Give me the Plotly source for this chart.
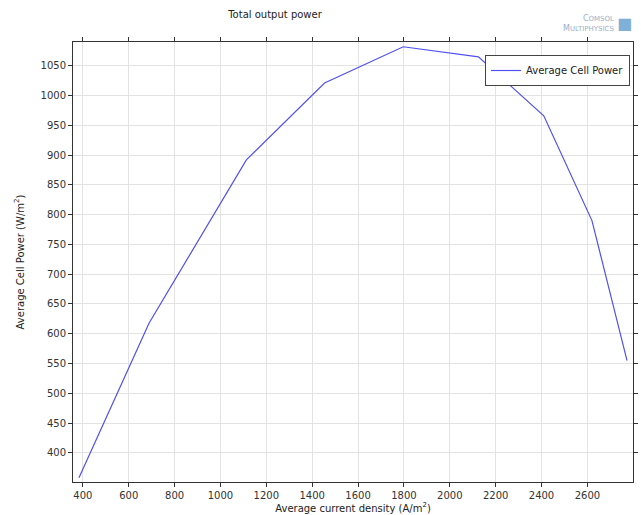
import plotly.graph_objects as go

current_density = [383, 689, 1113, 1454, 1797, 2125, 2410, 2620, 2773]
cell_power = [358, 618, 892, 1021, 1082, 1065, 966, 790, 555]
x_ticks = [400, 600, 800, 1000, 1200, 1400, 1600, 1800, 2000, 2200, 2400, 2600]
y_ticks = [400, 450, 500, 550, 600, 650, 700, 750, 800, 850, 900, 950, 1000, 1050]

fig = go.Figure()
fig.add_trace(go.Scatter(x=current_density, y=cell_power, mode="lines",
                         name="Average Cell Power",
                         line=dict(color="#5050f0", width=1.2)))

fig.update_layout(
    width=641, height=515,
    margin=dict(l=73, r=3, t=42, b=33),
    paper_bgcolor="white", plot_bgcolor="white",
    font=dict(family="DejaVu Sans", size=10, color="#333"),
    title=dict(text="Total output power", x=275/641, xanchor="center",
               y=1-14/515, yanchor="middle", font=dict(size=10, color="#222")),
    showlegend=True,
    legend=dict(x=(635 - 73) / 565, y=1 - (55 - 42) / 440, xanchor="right", yanchor="top",
                bordercolor="#444", borderwidth=1, bgcolor="white",
                font=dict(size=10, color="#222")),
    xaxis=dict(range=[357, 2799], tickvals=x_ticks, showgrid=True,
               gridcolor="#e3e3e3", gridwidth=1, zeroline=False,
               showline=True, linecolor="#333", linewidth=1, mirror="ticks",
               ticks="outside", ticklen=4, tickcolor="#333",
               title=dict(text="Average current density (A/m<sup>2</sup>)",
                          standoff=4, font=dict(size=10, color="#222"))),
    yaxis=dict(range=[351, 1090], tickvals=y_ticks, showgrid=True,
               gridcolor="#e3e3e3", gridwidth=1, zeroline=False,
               showline=True, linecolor="#333", linewidth=1, mirror="ticks",
               ticks="outside", ticklen=4, tickcolor="#333",
               title=dict(text="Average Cell Power (W/m<sup>2</sup>)",
                          standoff=14, font=dict(size=10, color="#222"))),
)

fig.add_annotation(text="C<span style='font-size:7px'>OMSOL</span><br>M<span style='font-size:7px'>ULTIPHYSICS</span>",
                   xref="paper", yref="paper", x=(621 - 73) / 565, y=1 + (42 - 24) / 440,
                   xanchor="right", yanchor="middle", showarrow=False, align="right",
                   font=dict(size=8, color="#9ab0c8"))
fig.add_annotation(text="■", xref="paper", yref="paper",
                   x=(629 - 73) / 565, y=1 + (42 - 24) / 440,
                   xanchor="center", yanchor="middle", showarrow=False,
                   font=dict(size=16, color="#7fb0d8"))

fig.write_html("out.html", config={"displayModeBar": False},
               post_script="document.body.style.margin='0px';document.body.style.overflow='hidden';")
